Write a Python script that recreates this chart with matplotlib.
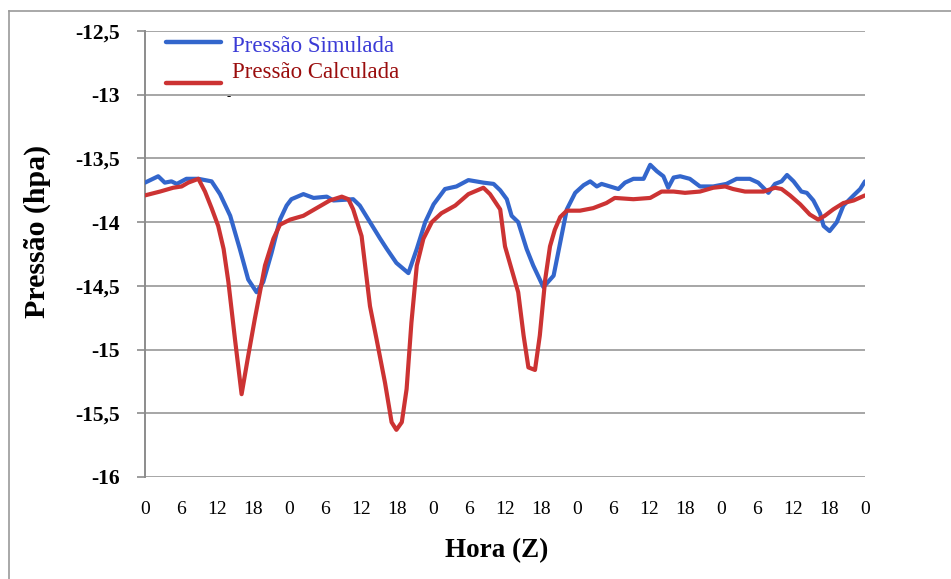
import matplotlib
matplotlib.use("Agg")
import matplotlib.pyplot as plt
from matplotlib.lines import Line2D

# ---------------- data ----------------
hours_sim = [0.0, 2.2, 3.3, 4.4, 5.3, 6.9, 8.9, 11.1, 12.5, 14.2, 15.8, 17.2, 18.6,
             19.7, 21.1, 22.5, 23.6, 24.4, 26.4, 28.1, 30.3, 31.4, 34.7, 35.8, 37.5,
             39.2, 40.3, 41.9, 43.9, 45.3, 46.7, 48.1, 50.0, 51.9, 53.9, 56.4, 58.1,
             59.2, 60.3, 61.1, 62.2, 63.6, 64.7, 66.4, 68.1, 69.2, 70.3, 71.7, 73.1,
             74.2, 75.3, 76.1, 77.5, 78.9, 80.0, 81.4, 83.1, 84.2, 85.3, 86.4, 87.2,
             88.1, 89.2, 90.8, 92.5, 94.7, 96.9, 98.6, 100.8, 102.2, 103.9, 105.0,
             106.1, 107.0, 108.1, 109.4, 110.3, 111.4, 112.5, 113.1, 114.1, 115.3,
             116.4, 118.1, 119.2, 120.0]
pressao_simulada = [-13.69, -13.64, -13.69, -13.68, -13.70, -13.66, -13.66, -13.68,
                    -13.78, -13.95, -14.21, -14.45, -14.55, -14.47, -14.24, -13.98,
                    -13.87, -13.82, -13.78, -13.81, -13.80, -13.83, -13.82, -13.87,
                    -14.00, -14.13, -14.21, -14.32, -14.40, -14.21, -14.00, -13.86,
                    -13.74, -13.72, -13.67, -13.69, -13.70, -13.75, -13.82, -13.95,
                    -14.00, -14.21, -14.34, -14.51, -14.42, -14.16, -13.90, -13.77,
                    -13.71, -13.68, -13.72, -13.70, -13.72, -13.74, -13.69, -13.66,
                    -13.66, -13.55, -13.60, -13.64, -13.73, -13.65, -13.64, -13.66,
                    -13.72, -13.72, -13.70, -13.66, -13.66, -13.69, -13.77, -13.70,
                    -13.68, -13.63, -13.68, -13.76, -13.77, -13.83, -13.93, -14.03,
                    -14.07, -14.00, -13.87, -13.79, -13.74, -13.68]

hours_calc = [0.0, 2.5, 4.7, 6.1, 7.2, 8.9, 10.0, 11.1, 12.2, 13.1, 13.9, 15.0, 16.1,
              17.2, 18.3, 20.0, 21.4, 22.5, 24.2, 26.4, 28.6, 30.8, 32.8, 33.9, 34.7,
              36.1, 37.5, 38.6, 40.0, 41.1, 41.9, 42.8, 43.6, 44.4, 45.3, 46.4, 47.8,
              49.4, 51.7, 53.9, 56.4, 57.5, 59.2, 60.0, 61.1, 62.2, 63.1, 63.9, 65.0,
              65.8, 66.7, 67.5, 68.3, 69.2, 70.3, 72.5, 74.7, 76.9, 78.3, 81.4, 84.2,
              86.1, 88.1, 90.0, 92.5, 94.7, 96.7, 98.0, 100.0, 103.1, 105.0, 106.1,
              107.5, 109.2, 110.8, 112.2, 113.3, 114.7, 116.4, 118.1, 120.0]
pressao_calculada = [-13.79, -13.76, -13.73, -13.72, -13.69, -13.66, -13.76, -13.89,
                     -14.03, -14.21, -14.47, -14.92, -15.35, -15.05, -14.76, -14.34,
                     -14.13, -14.02, -13.98, -13.95, -13.89, -13.83, -13.80, -13.82,
                     -13.90, -14.11, -14.66, -14.92, -15.26, -15.57, -15.63, -15.57,
                     -15.31, -14.79, -14.34, -14.13, -14.00, -13.93, -13.87, -13.78,
                     -13.73, -13.78, -13.90, -14.19, -14.37, -14.55, -14.89, -15.14,
                     -15.16, -14.89, -14.45, -14.19, -14.06, -13.96, -13.91, -13.91,
                     -13.89, -13.85, -13.81, -13.82, -13.81, -13.76, -13.76, -13.77,
                     -13.76, -13.73, -13.72, -13.74, -13.76, -13.76, -13.73, -13.74,
                     -13.79, -13.86, -13.94, -13.98, -13.95, -13.90, -13.85, -13.83,
                     -13.79]

x_tick_hours = list(range(0, 121, 6))
x_tick_labels = ["0", "6", "12", "18"] * 5 + ["0"]
y_ticks = [-16, -15.5, -15, -14.5, -14, -13.5, -13, -12.5]
y_tick_labels = ["-16", "-15,5", "-15", "-14,5", "-14", "-13,5", "-13", "-12,5"]

label_sim = "Pressão Simulada"
label_calc = "Pressão Calculada"

# ---------------- figure ----------------
W, H = 951, 579
fig = plt.figure(figsize=(W / 100, H / 100), dpi=100)
fig.patch.set_facecolor("white")
plt.rcParams["font.family"] = ["Liberation Serif", "DejaVu Serif"]

def fx(px):
    return px / W

def fy(py):
    return 1 - py / H

ax = fig.add_axes([fx(145), fy(477), fx(865) - fx(145), fy(31) - fy(477)])
ax.set_xlim(0, 120)
ax.set_ylim(-16, -12.5)

grid_c = "#a6a6a6"
for v in y_ticks:
    ax.axhline(v, color=grid_c, lw=1.4, zorder=0)

blue = "#3366CC"
red = "#CC3333"
ax.plot(hours_sim, pressao_simulada, color=blue, lw=3.0, solid_joinstyle="round",
        solid_capstyle="round", zorder=3)
ax.plot(hours_calc, pressao_calculada, color=red, lw=3.0, solid_joinstyle="round",
        solid_capstyle="round", zorder=4)

for s in ["top", "right"]:
    ax.spines[s].set_visible(False)
ax.spines["left"].set_color("#8c8c8c")
ax.spines["left"].set_linewidth(1.4)
ax.spines["bottom"].set_visible(False)

ax.set_yticks(y_ticks)
ax.set_yticklabels(y_tick_labels, fontsize=15.5, fontweight="bold")
ax.tick_params(axis="y", direction="out", length=6, width=1.2, color="#8c8c8c",
               pad=12, labelcolor="black")
ax.set_xticks(x_tick_hours)
ax.set_xticklabels(x_tick_labels, fontsize=14)
ax.tick_params(axis="x", length=0, pad=17, labelcolor="black")

fig.text(fx(37), fy(231), "Pressão (hpa)", fontsize=21.5, fontweight="bold",
         rotation=90, ha="center", va="center")
fig.text(fx(497), fy(551), "Hora (Z)", fontsize=19.5, fontweight="bold",
         ha="center", va="center")

# legend (manual, as in the reference)
fig.add_artist(Line2D([fx(166), fx(221)], [fy(42), fy(42)], color=blue, lw=3.2,
                      solid_capstyle="round"))
fig.add_artist(Line2D([fx(166), fx(221)], [fy(83), fy(83)], color=red, lw=3.2,
                      solid_capstyle="round"))
fig.text(fx(232), fy(46), label_sim, color="#3b3bd6", fontsize=16.5, va="center",
         ha="left")
fig.text(fx(232), fy(73), label_calc, color="#9a0d0d", fontsize=16.5, va="center",
         ha="left")
fig.text(fx(229), fy(97), "-", color="black", fontsize=9, va="center", ha="center")

# outer frame
fig.add_artist(Line2D([fx(9), 1], [fy(11), fy(11)], color="#9a9a9a", lw=1.2))
fig.add_artist(Line2D([fx(9), fx(9)], [fy(11), 0], color="#9a9a9a", lw=1.2))

fig.savefig("out.png", dpi=100, facecolor="white")
